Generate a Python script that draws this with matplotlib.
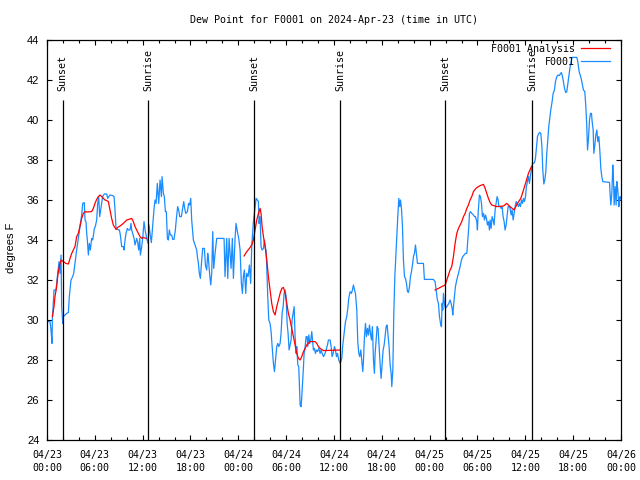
import datetime as dt
import matplotlib
matplotlib.use("Agg")
import matplotlib.pyplot as plt
import matplotlib.dates as mdates
from matplotlib.ticker import MultipleLocator

MONO = "DejaVu Sans Mono"
SANS = "Liberation Sans"

START = dt.datetime(2024, 4, 23, 0, 0)
TITLE = "Dew Point for F0001 on 2024-Apr-23 (time in UTC)"

# (hours since 04/23 00:00 UTC, deg F)
f0001 = [
    (0.00, 29.92), (0.38, 29.92), (0.50, 29.5), (0.63, 28.83), (0.67, 30.0), (0.88, 31.5),
    (1.13, 31.5), (1.30, 32.17), (1.51, 32.92), (1.63, 32.33), (1.76, 33.25), (1.84, 30.67),
    (1.97, 29.83), (2.05, 30.17), (2.47, 30.33), (2.68, 30.37), (2.80, 31.17), (3.01, 32.0),
    (3.22, 32.17), (3.35, 32.33), (3.51, 32.83), (3.72, 33.5), (3.93, 34.08), (4.14, 34.67),
    (4.35, 35.25), (4.48, 35.83), (4.68, 35.87), (4.77, 35.0), (4.89, 34.92), (4.98, 34.33),
    (5.06, 34.0), (5.19, 33.25), (5.31, 33.83), (5.44, 33.5), (5.60, 34.08), (5.73, 34.0),
    (5.86, 34.33), (5.94, 34.58), (6.06, 34.67), (6.23, 35.0), (6.36, 35.83), (6.48, 36.17),
    (6.61, 35.17), (6.73, 35.5), (6.86, 35.83), (6.98, 36.17), (7.19, 36.3), (7.49, 36.3),
    (7.61, 36.08), (7.74, 36.17), (7.90, 36.25), (8.24, 36.22), (8.41, 36.17), (8.53, 35.5),
    (8.66, 34.58), (8.82, 34.53), (9.08, 34.5), (9.20, 34.25), (9.37, 33.67), (9.58, 33.67),
    (9.66, 33.5), (9.79, 34.0), (9.91, 34.33), (10.08, 34.58), (10.20, 34.5), (10.41, 34.5),
    (10.54, 34.83), (10.62, 34.5), (10.75, 34.33), (10.92, 34.08), (11.04, 33.75), (11.25, 34.08),
    (11.38, 33.87), (11.50, 33.5), (11.63, 34.08), (11.71, 33.25), (11.88, 33.67), (12.00, 34.08),
    (12.17, 34.92), (12.34, 34.42), (12.51, 34.08), (12.67, 33.83), (12.80, 34.75), (12.92, 34.33),
    (13.09, 33.87), (13.22, 34.5), (13.43, 35.58), (13.55, 36.0), (13.68, 35.83), (13.84, 36.83),
    (14.01, 35.83), (14.18, 37.0), (14.35, 36.17), (14.43, 37.17), (14.60, 36.33), (14.72, 36.17),
    (14.85, 35.42), (14.97, 35.42), (15.10, 34.08), (15.22, 34.0), (15.35, 34.5), (15.47, 34.25),
    (15.64, 34.25), (15.77, 34.03), (15.93, 34.03), (16.10, 34.5), (16.23, 35.08), (16.39, 35.67),
    (16.52, 35.5), (16.65, 35.17), (16.85, 35.17), (17.02, 35.58), (17.15, 35.92), (17.27, 35.58),
    (17.40, 35.33), (17.61, 35.42), (17.77, 35.83), (17.90, 35.75), (18.03, 36.08), (18.15, 35.0),
    (18.36, 34.0), (18.57, 33.75), (18.78, 33.5), (18.86, 33.17), (18.99, 32.83), (19.11, 32.33),
    (19.24, 32.08), (19.36, 32.75), (19.53, 33.58), (19.74, 33.58), (19.87, 32.75), (20.03, 32.5),
    (20.16, 33.33), (20.24, 33.08), (20.41, 32.25), (20.54, 31.75), (20.66, 32.33), (20.79, 34.42),
    (20.91, 32.58), (21.08, 33.33), (21.29, 34.08), (22.21, 34.08), (22.33, 32.17), (22.54, 34.08),
    (22.67, 32.08), (22.84, 34.08), (23.09, 32.58), (23.25, 34.08), (23.38, 32.08), (23.59, 34.08),
    (23.71, 34.83), (23.88, 34.42), (24.05, 34.08), (24.22, 33.5), (24.38, 31.83), (24.51, 31.33),
    (24.63, 32.17), (24.76, 32.5), (24.93, 31.33), (25.05, 32.33), (25.22, 32.17), (25.39, 32.75),
    (25.55, 31.83), (25.68, 33.67), (25.89, 34.92), (26.23, 36.08), (26.39, 36.0), (26.52, 35.92),
    (26.60, 34.83), (26.73, 35.17), (26.85, 33.67), (26.98, 33.5), (27.15, 33.58), (27.27, 34.0),
    (27.40, 33.58), (27.48, 33.5), (27.57, 32.58), (27.69, 31.17), (27.82, 30.0), (27.98, 29.83),
    (28.11, 29.42), (28.24, 28.67), (28.40, 27.83), (28.53, 27.42), (28.65, 27.92), (28.82, 28.67),
    (28.95, 28.83), (29.07, 28.67), (29.24, 28.83), (29.36, 29.33), (29.49, 30.33), (29.62, 30.67),
    (29.74, 31.33), (29.87, 31.5), (29.99, 31.17), (30.12, 29.83), (30.24, 29.33), (30.37, 28.5),
    (30.49, 28.75), (30.62, 29.0), (30.74, 30.0), (30.87, 30.33), (31.00, 30.67), (31.12, 29.17),
    (31.25, 28.33), (31.33, 28.67), (31.46, 27.75), (31.58, 27.67), (31.66, 26.83), (31.75, 25.75),
    (31.87, 25.67), (31.96, 26.17), (32.08, 27.0), (32.17, 27.67), (32.25, 28.33), (32.38, 28.67),
    (32.50, 29.17), (32.63, 29.17), (32.71, 28.67), (32.84, 29.25), (32.96, 28.83), (33.09, 29.0),
    (33.21, 29.42), (33.34, 28.83), (33.42, 28.5), (33.55, 28.58), (33.67, 28.33), (33.80, 28.5),
    (33.92, 28.42), (34.09, 28.58), (34.26, 28.33), (34.38, 28.5), (34.51, 28.33), (34.68, 28.17),
    (34.88, 28.33), (35.01, 28.5), (35.18, 28.75), (35.30, 29.0), (35.51, 29.0), (35.64, 28.67),
    (35.76, 28.17), (35.89, 28.33), (36.06, 28.67), (36.18, 28.5), (36.31, 28.17), (36.43, 28.33),
    (36.60, 28.0), (36.77, 27.83), (36.98, 28.08), (37.10, 28.75), (37.27, 29.33), (37.44, 29.92),
    (37.60, 30.17), (37.73, 30.58), (37.85, 31.08), (38.02, 31.42), (38.19, 31.33), (38.31, 31.5),
    (38.44, 31.75), (38.57, 31.5), (38.69, 31.33), (38.86, 30.5), (38.98, 28.92), (39.11, 28.33),
    (39.23, 28.17), (39.36, 28.5), (39.49, 27.92), (39.61, 27.42), (39.69, 27.92), (39.82, 29.17),
    (39.95, 29.83), (40.07, 29.17), (40.20, 29.58), (40.32, 29.25), (40.45, 29.75), (40.57, 29.33),
    (40.70, 29.0), (40.82, 29.67), (40.95, 28.0), (41.07, 27.33), (41.16, 28.33), (41.28, 29.0),
    (41.41, 29.67), (41.53, 29.58), (41.66, 28.67), (41.79, 27.75), (41.91, 27.08), (42.04, 27.83),
    (42.16, 28.5), (42.29, 28.75), (42.41, 29.17), (42.54, 29.67), (42.66, 29.75), (42.79, 29.17),
    (42.91, 28.67), (43.04, 27.75), (43.17, 27.33), (43.25, 26.67), (43.38, 27.5), (43.50, 30.33),
    (43.63, 32.17), (43.75, 33.17), (43.88, 34.33), (44.00, 35.17), (44.13, 36.08), (44.25, 35.67),
    (44.34, 36.0), (44.46, 35.58), (44.59, 34.67), (44.71, 33.0), (44.84, 32.17), (44.96, 32.08),
    (45.09, 31.83), (45.22, 31.42), (45.34, 31.38), (45.47, 31.67), (45.59, 32.17), (45.72, 32.42),
    (45.84, 32.75), (45.97, 33.17), (46.09, 33.33), (46.22, 33.75), (46.34, 33.33), (46.47, 32.83),
    (47.22, 32.83), (47.34, 32.03), (48.47, 32.03), (48.68, 31.92), (48.81, 31.5), (48.97, 31.0),
    (49.10, 30.83), (49.23, 30.17), (49.39, 29.75), (49.48, 29.67), (49.56, 30.83), (49.64, 30.5),
    (49.73, 31.33), (49.85, 30.83), (49.98, 30.58), (50.15, 30.67), (50.40, 30.83), (50.56, 31.0),
    (50.69, 30.83), (50.82, 30.58), (50.90, 30.25), (51.02, 30.83), (51.11, 31.17), (51.23, 31.67),
    (51.40, 32.0), (51.61, 32.33), (51.82, 32.67), (51.99, 33.0), (52.15, 33.17), (52.32, 33.25),
    (52.49, 33.33), (52.66, 33.33), (52.78, 34.0), (52.91, 34.67), (52.99, 35.33), (53.12, 35.42),
    (53.28, 35.33), (53.49, 35.25), (53.62, 35.17), (53.74, 35.17), (53.91, 34.92), (53.99, 34.5),
    (54.08, 35.33), (54.16, 35.83), (54.24, 36.25), (54.37, 36.17), (54.50, 35.83), (54.62, 35.17),
    (54.75, 35.33), (54.87, 35.0), (55.00, 35.25), (55.12, 35.08), (55.25, 34.75), (55.37, 34.92),
    (55.50, 34.5), (55.58, 35.0), (55.71, 34.58), (55.83, 35.17), (55.96, 35.0), (56.08, 34.75),
    (56.21, 35.5), (56.34, 35.83), (56.46, 36.17), (56.59, 36.0), (56.67, 35.67), (56.84, 35.67),
    (56.96, 35.58), (57.09, 35.67), (57.21, 35.17), (57.34, 34.92), (57.46, 34.5), (57.59, 34.75),
    (57.72, 35.25), (57.84, 35.67), (57.97, 35.67), (58.09, 35.58), (58.22, 35.25), (58.34, 35.5),
    (58.47, 35.0), (58.59, 35.33), (58.72, 35.67), (58.85, 35.92), (58.97, 35.83), (59.14, 35.67),
    (59.26, 35.83), (59.39, 35.67), (59.51, 36.0), (59.64, 35.83), (59.77, 36.08), (59.89, 35.92),
    (60.02, 36.17), (60.14, 36.67), (60.27, 36.92), (60.39, 37.17), (60.52, 36.83), (60.64, 37.25),
    (60.77, 37.5), (60.89, 37.83), (61.02, 37.83), (61.15, 37.87), (61.27, 38.08), (61.40, 38.67),
    (61.52, 39.17), (61.69, 39.33), (61.81, 39.38), (61.94, 39.33), (62.07, 38.75), (62.19, 37.5),
    (62.32, 36.8), (62.44, 37.0), (62.57, 37.42), (62.69, 38.33), (62.82, 39.0), (62.94, 39.67),
    (63.07, 40.08), (63.19, 40.5), (63.36, 40.92), (63.49, 41.33), (63.65, 41.5), (63.78, 41.92),
    (63.95, 42.17), (64.11, 42.25), (64.28, 42.22), (64.41, 42.33), (64.53, 42.37), (64.66, 42.17),
    (64.78, 41.92), (64.91, 41.58), (65.08, 41.37), (65.20, 41.42), (65.37, 41.92), (65.50, 42.33),
    (65.62, 42.67), (65.75, 42.92), (65.87, 43.13), (66.46, 43.13), (66.58, 42.92), (66.75, 42.42),
    (66.88, 42.25), (67.00, 42.08), (67.13, 41.83), (67.29, 41.5), (67.46, 41.42), (67.59, 40.67),
    (67.71, 39.67), (67.80, 38.5), (67.92, 39.08), (68.05, 40.0), (68.17, 40.33), (68.30, 40.33),
    (68.38, 39.92), (68.51, 39.5), (68.59, 38.33), (68.72, 38.75), (68.84, 39.25), (68.97, 39.5),
    (69.09, 38.92), (69.22, 39.17), (69.34, 38.5), (69.47, 37.58), (69.59, 37.17), (69.72, 36.92),
    (70.56, 36.88), (70.64, 36.25), (70.72, 35.75), (70.85, 36.33), (70.97, 37.75), (71.06, 37.0),
    (71.14, 35.75), (71.27, 36.67), (71.39, 35.75), (71.48, 36.92), (71.60, 36.5), (71.73, 35.67),
    (71.81, 36.08), (71.89, 36.17), (72.00, 36.0),
]

# analysis is only drawn overnight, three pieces
analysis_night1 = [
    (0.67, 30.17), (0.88, 30.67), (1.00, 31.17), (1.21, 31.67), (1.34, 32.17), (1.42, 32.42),
    (1.63, 32.83), (1.76, 33.0), (2.05, 32.92), (2.38, 32.83), (2.68, 32.8), (2.89, 33.08),
    (3.10, 33.33), (3.30, 33.5), (3.51, 33.67), (3.72, 34.17), (3.93, 34.33), (4.14, 34.7),
    (4.35, 35.08), (4.56, 35.33), (4.77, 35.42), (4.98, 35.4), (5.60, 35.42), (5.81, 35.58),
    (6.02, 35.83), (6.23, 36.03), (6.44, 36.17), (6.65, 36.25), (6.86, 36.17), (7.07, 36.08),
    (7.28, 36.0), (7.49, 35.97), (7.70, 35.92), (7.90, 35.5), (8.11, 35.08), (8.32, 34.75),
    (8.66, 34.53), (8.87, 34.63), (9.16, 34.7), (9.58, 34.83), (10.00, 35.0), (10.41, 35.05),
    (10.62, 35.08), (10.83, 34.92), (11.04, 34.67), (11.25, 34.5), (11.46, 34.33), (11.67, 34.17),
    (11.88, 34.08), (12.09, 34.13), (12.42, 34.08),
]
analysis_night2 = [
    (24.72, 33.2), (25.06, 33.42), (25.39, 33.58), (25.68, 33.75), (25.89, 34.0), (26.10, 34.5),
    (26.31, 35.0), (26.52, 35.33), (26.73, 35.58), (26.85, 35.33), (26.98, 34.67), (27.15, 34.17),
    (27.36, 33.67), (27.57, 33.0), (27.77, 32.17), (27.98, 31.5), (28.19, 30.83), (28.40, 30.42),
    (28.61, 30.25), (28.82, 30.67), (29.03, 31.0), (29.24, 31.33), (29.45, 31.58), (29.66, 31.63),
    (29.87, 31.33), (30.08, 30.83), (30.28, 30.33), (30.49, 30.0), (30.70, 29.58), (30.91, 29.17),
    (31.12, 28.75), (31.33, 28.33), (31.54, 28.08), (31.75, 28.0), (31.96, 28.17), (32.17, 28.42),
    (32.38, 28.58), (32.58, 28.75), (32.79, 28.83), (33.00, 28.92), (33.63, 28.92), (33.84, 28.83),
    (34.05, 28.67), (34.26, 28.58), (34.68, 28.47), (36.77, 28.5),
]
analysis_night3 = [
    (48.68, 31.5), (49.10, 31.58), (49.52, 31.67), (49.94, 31.75), (50.15, 32.0), (50.36, 32.25),
    (50.56, 32.5), (50.77, 32.67), (50.98, 33.17), (51.19, 33.83), (51.40, 34.33), (51.61, 34.58),
    (51.82, 34.75), (52.03, 34.92), (52.24, 35.17), (52.45, 35.33), (52.66, 35.58), (52.86, 35.75),
    (53.07, 36.0), (53.28, 36.17), (53.49, 36.42), (53.70, 36.53), (53.91, 36.62), (54.33, 36.72),
    (54.75, 36.78), (54.96, 36.58), (55.16, 36.33), (55.37, 36.08), (55.58, 35.87), (55.79, 35.75),
    (56.42, 35.67), (57.26, 35.7), (57.67, 35.83), (58.09, 35.67), (58.59, 35.5), (59.01, 35.83),
    (59.43, 36.08), (59.64, 36.33), (60.02, 36.83), (60.39, 37.33), (60.77, 37.67), (60.89, 37.7),
]

sunset_times = ["2024-04-23 01:58", "2024-04-24 02:00", "2024-04-25 01:59"]
sunrise_times = ["2024-04-23 12:43", "2024-04-24 12:48", "2024-04-25 12:53"]


def unpack(series):
    t = [START + dt.timedelta(hours=h) for h, _ in series]
    v = [val for _, val in series]
    return t, v


fig = plt.figure(figsize=(6.4, 4.8), dpi=100)
ax = fig.add_axes([47 / 640, 40 / 480, 574 / 640, 400 / 480])

red_lines = None
for seg in (analysis_night1, analysis_night2, analysis_night3):
    t, v = unpack(seg)
    red_lines, = ax.plot(t, v, color="#ff0000", lw=0.9, zorder=3)
t, v = unpack(f0001)
blue_line, = ax.plot(t, v, color="#1a8cff", lw=0.9, zorder=2)

# sunrise / sunset markers
for label, times in (("Sunset", sunset_times), ("Sunrise", sunrise_times)):
    for s in times:
        ts = dt.datetime.strptime(s, "%Y-%m-%d %H:%M")
        ax.vlines(ts, 24, 41.0, color="black", lw=0.9, zorder=4)
        ax.text(ts, 41.45, label, rotation=90, ha="center", va="bottom",
                family=MONO, fontsize=7.2, zorder=5)

ax.set_xlim(START, START + dt.timedelta(hours=72))
ax.set_ylim(24, 44)
ax.xaxis.set_major_locator(mdates.HourLocator(byhour=range(0, 24, 6)))
ax.xaxis.set_minor_locator(mdates.HourLocator(byhour=range(0, 24, 2)))
ax.xaxis.set_major_formatter(mdates.DateFormatter("%m/%d\n%H:%M"))
ax.yaxis.set_major_locator(MultipleLocator(2))

ax.tick_params(which="both", direction="in", top=True, right=True, width=0.8)
ax.tick_params(which="major", length=3.5)
ax.tick_params(which="minor", length=2.2)
ax.tick_params(axis="x", pad=7.5, labelsize=7.2)
ax.tick_params(axis="y", pad=5.5, labelsize=8)
for lab in ax.get_xticklabels():
    lab.set_family(MONO)
    lab.set_linespacing(1.35)
for lab in ax.get_yticklabels():
    lab.set_family(SANS)
for sp in ax.spines.values():
    sp.set_linewidth(0.9)

ax.set_ylabel("degrees F", family=SANS, fontsize=8)
ax.yaxis.set_label_coords(-0.054, 0.48)

fig.text(334 / 640, 1 - 20 / 480, TITLE, ha="center", va="center", family=MONO, fontsize=7.2)

ax.legend([red_lines, blue_line], ["F0001 Analysis", "F0001"], loc="upper right",
          bbox_to_anchor=(0.988, 1.0), frameon=False, markerfirst=False,
          handlelength=2.9, handletextpad=0.6, labelspacing=0.3,
          borderpad=0.2, borderaxespad=0.2, prop={"family": MONO, "size": 7.2})

fig.savefig("out.png", dpi=100)
